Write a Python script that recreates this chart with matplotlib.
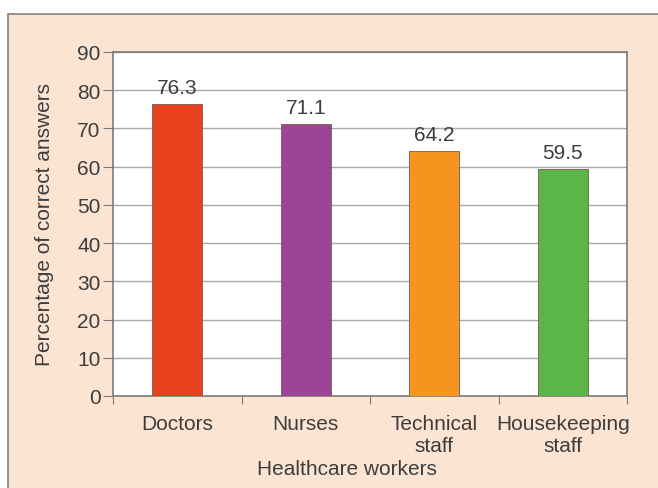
import matplotlib
matplotlib.use('Agg')
import matplotlib.pyplot as plt
from matplotlib.patches import Rectangle
import numpy as np

categories = ['Doctors', 'Nurses', 'Technical\nstaff', 'Housekeeping\nstaff']
values = [76.3, 71.1, 64.2, 59.5]
colors = ['#e8411e', '#9d4398', '#f7941e', '#5cb547']

plt.rcParams['font.family'] = ['Liberation Sans', 'DejaVu Sans']
txt = '#3d3d3d'
fs = 15

fig = plt.figure(figsize=(6.58, 4.89), dpi=100)
fig.patch.set_facecolor('white')
# peach panel behind the chart
fig.add_artist(Rectangle((8 / 658, -0.01), 1, 1.01 - 15 / 489, transform=fig.transFigure,
                         facecolor='#fce4d3', edgecolor='#8a7f78', linewidth=1.2, zorder=-10))

ax = fig.add_axes([113 / 658, 92 / 489, 514 / 658, 344 / 489])
ax.set_facecolor('white')

x = np.arange(len(categories))
bars = ax.bar(x, values, width=0.39, color=colors, edgecolor='#7a5a4a', linewidth=0.6, zorder=3)
for b, v in zip(bars, values):
    ax.annotate(f'{v}', (b.get_x() + b.get_width() / 2, v), xytext=(0, 5),
                textcoords='offset points', ha='center', va='bottom', fontsize=fs, color=txt)

ax.set_xlim(-0.5, len(categories) - 0.5)
ax.set_ylim(0, 90)
ax.set_yticks(np.arange(0, 91, 10))
ax.yaxis.grid(True, color='#a8a8a8', linewidth=1.0, zorder=0)
ax.set_axisbelow(True)

ax.set_xticks(np.arange(-0.5, len(categories), 1))
ax.set_xticklabels([])
ax.set_xticks(x, minor=True)
ax.set_xticklabels(categories, minor=True, fontsize=fs, color=txt, linespacing=1.2)
ax.tick_params(axis='x', which='minor', length=0, pad=13)
ax.tick_params(axis='x', which='major', length=6, color='#7a7a7a', direction='out')
ax.tick_params(axis='y', length=7, color='#7a7a7a', labelsize=fs, labelcolor=txt, pad=2)

for s in ax.spines.values():
    s.set_color('#7a7a7a')
    s.set_linewidth(1.2)

ax.set_ylabel('Percentage of correct answers', fontsize=fs, color=txt, labelpad=17)
ax.set_xlabel('Healthcare workers', fontsize=fs, color=txt)
ax.xaxis.set_label_coords(0.455, -0.183)
ax.xaxis.label.set_va('top')

fig.savefig('out.png', dpi=100)
